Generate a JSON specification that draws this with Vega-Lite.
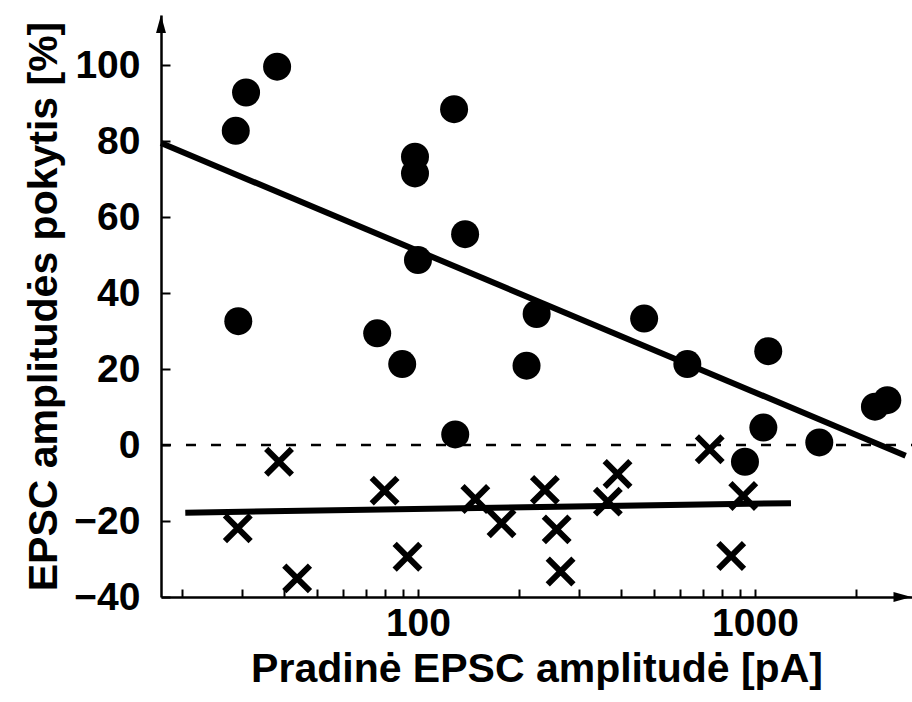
{
  "$schema": "https://vega.github.io/schema/vega-lite/v6.json",
  "width": 751,
  "height": 582,
  "autosize": {"type": "none"},
  "padding": {"left": 161, "top": 15, "right": 0, "bottom": 105},
  "background": "white",
  "config": {
    "view": {"stroke": null},
    "font": "Liberation Sans",
    "axis": {
      "grid": false,
      "domainColor": "black",
      "domainWidth": 2.5,
      "tickColor": "black",
      "tickWidth": 2,
      "labelColor": "black",
      "labelFontSize": 39,
      "labelFont": "Liberation Sans",
      "labelFontWeight": "bold",
      "titleColor": "black",
      "titleFont": "Liberation Sans",
      "titleFontSize": 41,
      "titleFontWeight": "bold",
      "labelOverlap": false,
      "labelFlush": false,
      "labelBound": false
    }
  },
  "datasets": {
    "circles": [
      {"x": 28.8, "y": 82.7}, {"x": 30.9, "y": 92.8}, {"x": 38.2, "y": 99.6},
      {"x": 29.3, "y": 32.6}, {"x": 75.7, "y": 29.4}, {"x": 89.8, "y": 21.3},
      {"x": 98, "y": 75.9}, {"x": 98, "y": 71.5}, {"x": 100, "y": 48.7},
      {"x": 128, "y": 88.4}, {"x": 138, "y": 55.5}, {"x": 129, "y": 2.8},
      {"x": 225, "y": 34.5}, {"x": 210, "y": 20.9}, {"x": 469, "y": 33.3},
      {"x": 630, "y": 21.3}, {"x": 1095, "y": 24.7}, {"x": 1059, "y": 4.6},
      {"x": 934, "y": -4.4}, {"x": 1552, "y": 0.7}, {"x": 2270, "y": 10.1},
      {"x": 2470, "y": 11.8}
    ],
    "crosses": [
      {"x": 38.7, "y": -4.4}, {"x": 29.2, "y": -21.9}, {"x": 43.8, "y": -35.1},
      {"x": 79.6, "y": -12.0}, {"x": 93.1, "y": -29.4}, {"x": 148, "y": -14.2},
      {"x": 177, "y": -20.6}, {"x": 238, "y": -11.8}, {"x": 258, "y": -22.2},
      {"x": 265, "y": -33.3}, {"x": 366, "y": -14.9}, {"x": 391, "y": -7.6},
      {"x": 734, "y": -1.1}, {"x": 923, "y": -13.4}, {"x": 850, "y": -29.2}
    ],
    "fits": [
      {"g": "circles", "x": 17.28, "y": 79.5}, {"g": "circles", "x": 2800, "y": -2.8},
      {"g": "crosses", "x": 20.4, "y": -17.8}, {"g": "crosses", "x": 1279, "y": -15.3}
    ],
    "zero": [{"x": 17.28, "y": 0}, {"x": 2924, "y": 0}],
    "arrowY": [{"x": 17.28, "y": 110.8}],
    "arrowX": [{"x": 2740, "y": -40}]
  },
  "encoding": {
    "x": {
      "field": "x",
      "type": "quantitative",
      "scale": {"type": "log", "domain": [17.28, 2924], "nice": false},
      "axis": {
        "title": "Pradinė EPSC amplitudė [pA]",
        "values": [20, 30, 40, 50, 60, 70, 80, 90, 100, 200, 300, 400, 500, 600, 700, 800, 900, 1000, 2000],
        "format": "d",
        "labelExpr": "datum.value == 100 || datum.value == 1000 ? datum.label : ''",
        "tickSize": -8,
        "labelPadding": 15,
        "titlePadding": 6
      }
    },
    "y": {
      "field": "y",
      "type": "quantitative",
      "scale": {"domain": [-40, 113.2], "nice": false, "zero": false},
      "axis": {
        "title": "EPSC amplitudės pokytis [%]",
        "values": [-40, -20, 0, 20, 40, 60, 80, 100],
        "tickSize": -9,
        "labelPadding": 30,
        "titlePadding": 8
      }
    }
  },
  "layer": [
    {
      "data": {"name": "zero"},
      "mark": {"type": "line", "color": "black", "strokeWidth": 2.5, "strokeDash": [10, 15]}
    },
    {
      "data": {"name": "circles"},
      "mark": {"type": "point", "shape": "circle", "filled": true, "color": "black", "opacity": 1, "size": 784}
    },
    {
      "data": {"name": "crosses"},
      "mark": {"type": "point", "shape": "M-1,-1L1,1M1,-1L-1,1", "filled": false, "color": "black", "opacity": 1, "strokeWidth": 6, "size": 660}
    },
    {
      "data": {"name": "fits"},
      "mark": {"type": "line", "color": "black", "strokeWidth": 6}
,
      "encoding": {"detail": {"field": "g"}}
    },
    {
      "data": {"name": "arrowY"},
      "mark": {"type": "point", "shape": "M0,-1L0.55,1L-0.55,1Z", "filled": true, "color": "black", "opacity": 1, "size": 324}
    },
    {
      "data": {"name": "arrowX"},
      "mark": {"type": "point", "shape": "M1,0L-1,0.55L-1,-0.55Z", "filled": true, "color": "black", "opacity": 1, "size": 324}
    }
  ]
}
